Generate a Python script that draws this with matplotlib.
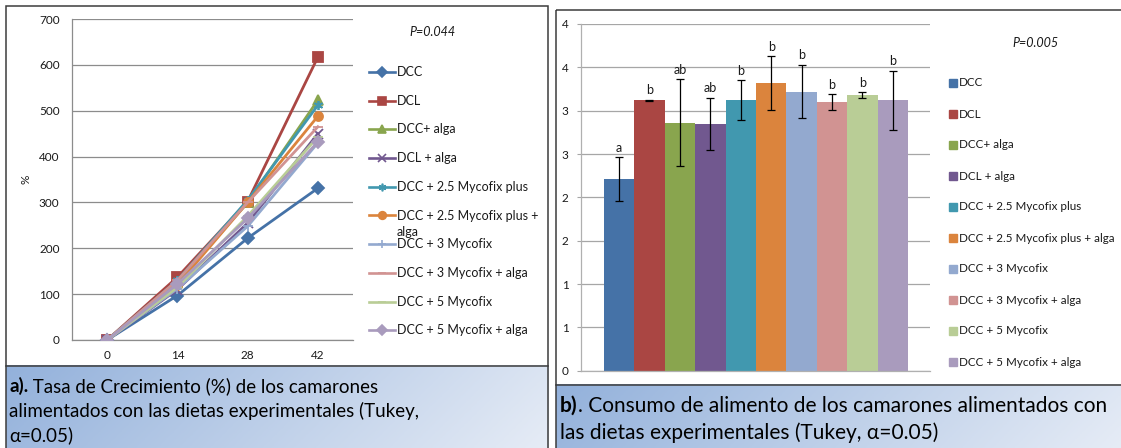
import textwrap
import numpy as np
import matplotlib
matplotlib.use("Agg")
import matplotlib.pyplot as plt
from matplotlib.lines import Line2D
from matplotlib.patches import Rectangle
from matplotlib.colors import LinearSegmentedColormap

plt.rcParams["font.family"] = ["Lato", "DejaVu Sans"]

# ---------------------------------------------------------------- data
diets = [
    "DCC", "DCL", "DCC+ alga", "DCL + alga", "DCC + 2.5 Mycofix plus",
    "DCC + 2.5 Mycofix plus + alga", "DCC + 3 Mycofix", "DCC + 3 Mycofix + alga",
    "DCC + 5 Mycofix", "DCC + 5 Mycofix + alga",
]
colors = ["#4572A7", "#AA4643", "#89A54E", "#71588F", "#4198AF",
          "#DB843D", "#93A9CF", "#D19392", "#B9CD96", "#A99BBD"]

days = ["0", "14", "28", "42"]
growth_dcc = [0, 97, 222, 331]
growth_dcl = [0, 137, 302, 617]
growth_dcc_alga = [0, 125, 300, 523]
growth_dcl_alga = [0, 110, 255, 450]
growth_m25 = [0, 130, 305, 512]
growth_m25_alga = [0, 120, 300, 488]
growth_m3 = [0, 112, 248, 430]
growth_m3_alga = [0, 130, 300, 465]
growth_m5 = [0, 115, 270, 443]
growth_m5_alga = [0, 122, 265, 432]
growth = [growth_dcc, growth_dcl, growth_dcc_alga, growth_dcl_alga, growth_m25,
          growth_m25_alga, growth_m3, growth_m3_alga, growth_m5, growth_m5_alga]

intake_mean = [2.21, 3.12, 2.86, 2.85, 3.12, 3.32, 3.22, 3.10, 3.18, 3.12]
intake_err = [0.25, 0.005, 0.50, 0.30, 0.23, 0.31, 0.31, 0.09, 0.03, 0.34]
tukey_groups = ["a", "b", "ab", "ab", "b", "b", "b", "b", "b", "b"]

growth_yticks = [0, 100, 200, 300, 400, 500, 600, 700]
intake_yticks = [0, 0.5, 1, 1.5, 2, 2.5, 3, 3.5, 4]
intake_yticklabels = ["0", "1", "1", "2", "2", "3", "3", "4", "4"]

p_growth = "P=0.044"
p_intake = "P=0.005"
caption_a_bold = "a)."
caption_a = [" Tasa de Crecimiento (%) de los camarones",
             "alimentados con las dietas experimentales (Tukey,",
             "α=0.05)"]
caption_b_bold = "b)"
caption_b = [". Consumo de alimento de los camarones alimentados con",
             "las dietas experimentales (Tukey, α=0.05)"]

markers = ["D", "s", "^", "x", (6, 2, 0), "o", "+", "_", "_", "D"]

# ---------------------------------------------------------------- layout
W, H = 1121, 448
fig = plt.figure(figsize=(W / 100, H / 100), dpi=100)
fig.patch.set_facecolor("white")

# pixel-space layer for frames, captions and legends
lay = fig.add_axes([0, 0, 1, 1], zorder=0)
lay.set_axis_off()


def px_axes(x0, y0, x1, y1):
    return fig.add_axes([x0 / W, 1 - y1 / H, (x1 - x0) / W, (y1 - y0) / H], zorder=2)


TXT = "#1a1a1a"
EDGE = "#3c3c3c"

# caption gradients
grad = LinearSegmentedColormap.from_list("cap", ["#93B1DB", "#E6ECF6"])


def caption_box(x0, y0, x1, y1):
    w, h = x1 - x0, y1 - y0
    xx, yy = np.meshgrid(np.linspace(0, w, 300), np.linspace(0, h, 60))
    t = (xx + yy) / (w + h)
    lay.imshow(t, cmap=grad, extent=(x0, x1, y1, y0), aspect="auto",
               interpolation="bilinear", zorder=0)


caption_box(5.5, 366, 548, 449)
caption_box(556, 385, 1122, 449)

# panel frames
for (x0, y0, x1, y1, ysep) in [(5.5, 6, 548, 449, 366), (556, 10, 1125, 449, 385)]:
    lay.add_patch(Rectangle((x0, y0), x1 - x0, y1 - y0, fill=False,
                            ec=EDGE, lw=1.1, zorder=3))
    lay.plot([x0, x1], [ysep, ysep], color=EDGE, lw=1.1, zorder=3)

# ---------------------------------------------------------------- chart a
ax1 = px_axes(72, 19, 353, 340)
xpos = np.arange(len(days))
for vals, c, m in zip(growth, colors, markers):
    ax1.plot(xpos, vals, color=c, lw=2.0, marker=m, ms=6.5, mfc=c, mec=c,
             mew=1.3, zorder=3)
ax1.set_xlim(-0.5, len(days) - 0.5)
ax1.set_ylim(0, 700)
ax1.set_yticks(growth_yticks)
ax1.set_xticks(xpos)
ax1.set_xticklabels(days)
ax1.grid(axis="y", color="#8c8c8c", lw=0.9)
ax1.set_axisbelow(True)
for s in ["top", "right"]:
    ax1.spines[s].set_visible(False)
for s in ["left", "bottom"]:
    ax1.spines[s].set_color("#8c8c8c")
    ax1.spines[s].set_linewidth(0.9)
ax1.tick_params(axis="y", length=0, pad=9, labelsize=8.5, labelcolor=TXT)
ax1.tick_params(axis="x", length=0, pad=7, labelsize=8.5, labelcolor=TXT)
ax1.set_ylabel("%", fontsize=8.5, color=TXT, labelpad=5)

# ---------------------------------------------------------------- chart b
ax2 = px_axes(581, 24, 930, 370.7)
bx = np.arange(len(diets))
ax2.bar(bx, intake_mean, width=1.0, color=colors, zorder=2,
        yerr=intake_err, capsize=2.6,
        error_kw=dict(elinewidth=0.9, capthick=0.9, ecolor="black", zorder=3))
for i, (m, e, g) in enumerate(zip(intake_mean, intake_err, tukey_groups)):
    ax2.annotate(g, (i, m + e), xytext=(0, 2.5), textcoords="offset points",
                 ha="center", va="bottom", fontsize=9, color=TXT)
ax2.set_xlim(-0.5 - 0.75, len(diets) - 0.5 + 0.72)
ax2.set_ylim(0, 4)
ax2.set_yticks(intake_yticks)
ax2.set_yticklabels(intake_yticklabels)
ax2.set_xticks([])
ax2.grid(axis="y", color="#a6a6a6", lw=0.9)
ax2.set_axisbelow(True)
for s in ["top", "right"]:
    ax2.spines[s].set_visible(False)
for s in ["left", "bottom"]:
    ax2.spines[s].set_color("#b0b0b0")
    ax2.spines[s].set_linewidth(0.9)
ax2.tick_params(axis="y", length=3, color="#a6a6a6", pad=6, labelsize=8.5,
                labelcolor=TXT)

# ---------------------------------------------------------------- legends
lay.text(432, 32, p_growth, style="italic", fontsize=9, color=TXT,
         ha="center", va="center")
for i, (lab, c, m) in enumerate(zip(diets, colors, markers)):
    y = 72 + 28.7 * i
    lay.add_line(Line2D([369, 395], [y, y], color=c, lw=1.9, zorder=4))
    lay.add_line(Line2D([382], [y], color=c, marker=m, ms=5.5, mfc=c, mec=c,
                        mew=1.2, zorder=4))
    for k, part in enumerate(textwrap.wrap(lab, 24)):
        lay.text(397, y + 17 * k, part, fontsize=9, color=TXT, ha="left",
                 va="center", zorder=4)

lay.text(1035, 43, p_intake, style="italic", fontsize=9, color=TXT,
         ha="center", va="center")
for i, (lab, c) in enumerate(zip(diets, colors)):
    y = 83 + 31 * i
    lay.add_patch(Rectangle((949, y - 4), 8, 8, color=c, zorder=4))
    lay.text(959, y, lab, fontsize=8.4, color=TXT, ha="left", va="center", zorder=4)

lay.set_xlim(0, W)
lay.set_ylim(H, 0)

# ---------------------------------------------------------------- captions
fig.canvas.draw()
renderer = fig.canvas.get_renderer()


def caption(x, y0, pitch, bold, lines, size):
    tb = lay.text(x, y0, bold, fontsize=size, fontweight="bold", color="black",
                  ha="left", va="baseline", zorder=4)
    bb = tb.get_window_extent(renderer=renderer)
    for k, line in enumerate(lines):
        xs = bb.x1 if k == 0 else x
        lay.text(xs, y0 + pitch * k, line, fontsize=size, color="black",
                 ha="left", va="baseline", zorder=4)


caption(9, 392, 24.5, caption_a_bold, caption_a, 13.5)
caption(560, 412, 27, caption_b_bold, caption_b, 15)

fig.savefig("out.png", dpi=100, facecolor="white")
